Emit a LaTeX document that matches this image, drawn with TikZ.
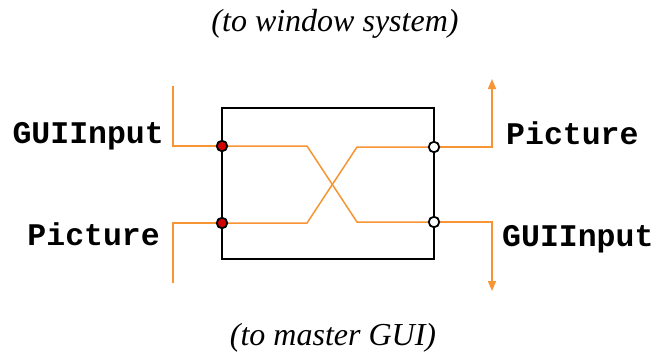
\documentclass[tikz,border=0pt]{standalone}
\usepackage{fontspec}
\setmainfont{Liberation Serif}
\setmonofont{Liberation Mono}
\usetikzlibrary{arrows.meta}
\definecolor{wire}{RGB}{247,148,52}
\definecolor{portred}{RGB}{210,0,0}
\tikzset{
  x=1pt, y=-1pt,
  wireline/.style={draw=wire, line width=1.5pt},
  wirearrow/.style={wireline, -{Triangle[length=10pt,width=8pt]}},
  boxline/.style={draw=black, line width=2.6pt},
  inport/.style={circle, draw=black, line width=1.8pt, fill=portred, inner sep=0pt, minimum size=10.5pt},
  outport/.style={circle, draw=black, line width=1.8pt, fill=white, inner sep=0pt, minimum size=10.5pt},
  portlabel/.style={font=\fontsize{31.5}{31.5}\selectfont\ttfamily\bfseries, inner sep=0pt},
  caption/.style={font=\fontsize{32}{32}\selectfont\itshape, inner sep=0pt}
}
\begin{document}
\begin{tikzpicture}
\useasboundingbox (0,0) rectangle (657,360);

% the component box
\draw[boxline] (222,108) rectangle (434,259);

% port positions
\coordinate (inA) at (222,146);
\coordinate (inB) at (222,223);
\coordinate (outA) at (434,147);
\coordinate (outB) at (434,222);

% external wire ends
\coordinate (srcA) at (173,86);
\coordinate (srcB) at (173,283);
\coordinate (dstA) at (492,79);
\coordinate (dstB) at (492,291);

% incoming wires on the left
\draw[wireline] (srcA) |- (inA);
\draw[wireline] (srcB) |- (inB);

% crossing wires inside the box
\draw[wireline] (inA) -- (307,146) -- (357,222) -- (outB);
\draw[wireline] (inB) -- (307,223) -- (357,147) -- (outA);

% outgoing wires on the right
\draw[wirearrow] (outA) -| (dstA);
\draw[wirearrow] (outB) -| (dstB);

% ports
\node[inport] (pInA) at (inA) {};
\node[inport] (pInB) at (inB) {};
\node[outport] (pOutA) at (outA) {};
\node[outport] (pOutB) at (outB) {};

% labels
\node[portlabel, anchor=base east] (lInA) at (164,143) {GUIInput};
\node[portlabel, anchor=base east] (lInB) at (160,245) {Picture};
\node[portlabel, anchor=base west] (lOutA) at (506,144) {Picture};
\node[portlabel, anchor=base west] (lOutB) at (502,246) {GUIInput};

\node[caption, anchor=base] (top) at (335,31) {(to window system)};
\node[caption, anchor=base] (bottom) at (333,345) {(to master GUI)};
\end{tikzpicture}
\end{document}
